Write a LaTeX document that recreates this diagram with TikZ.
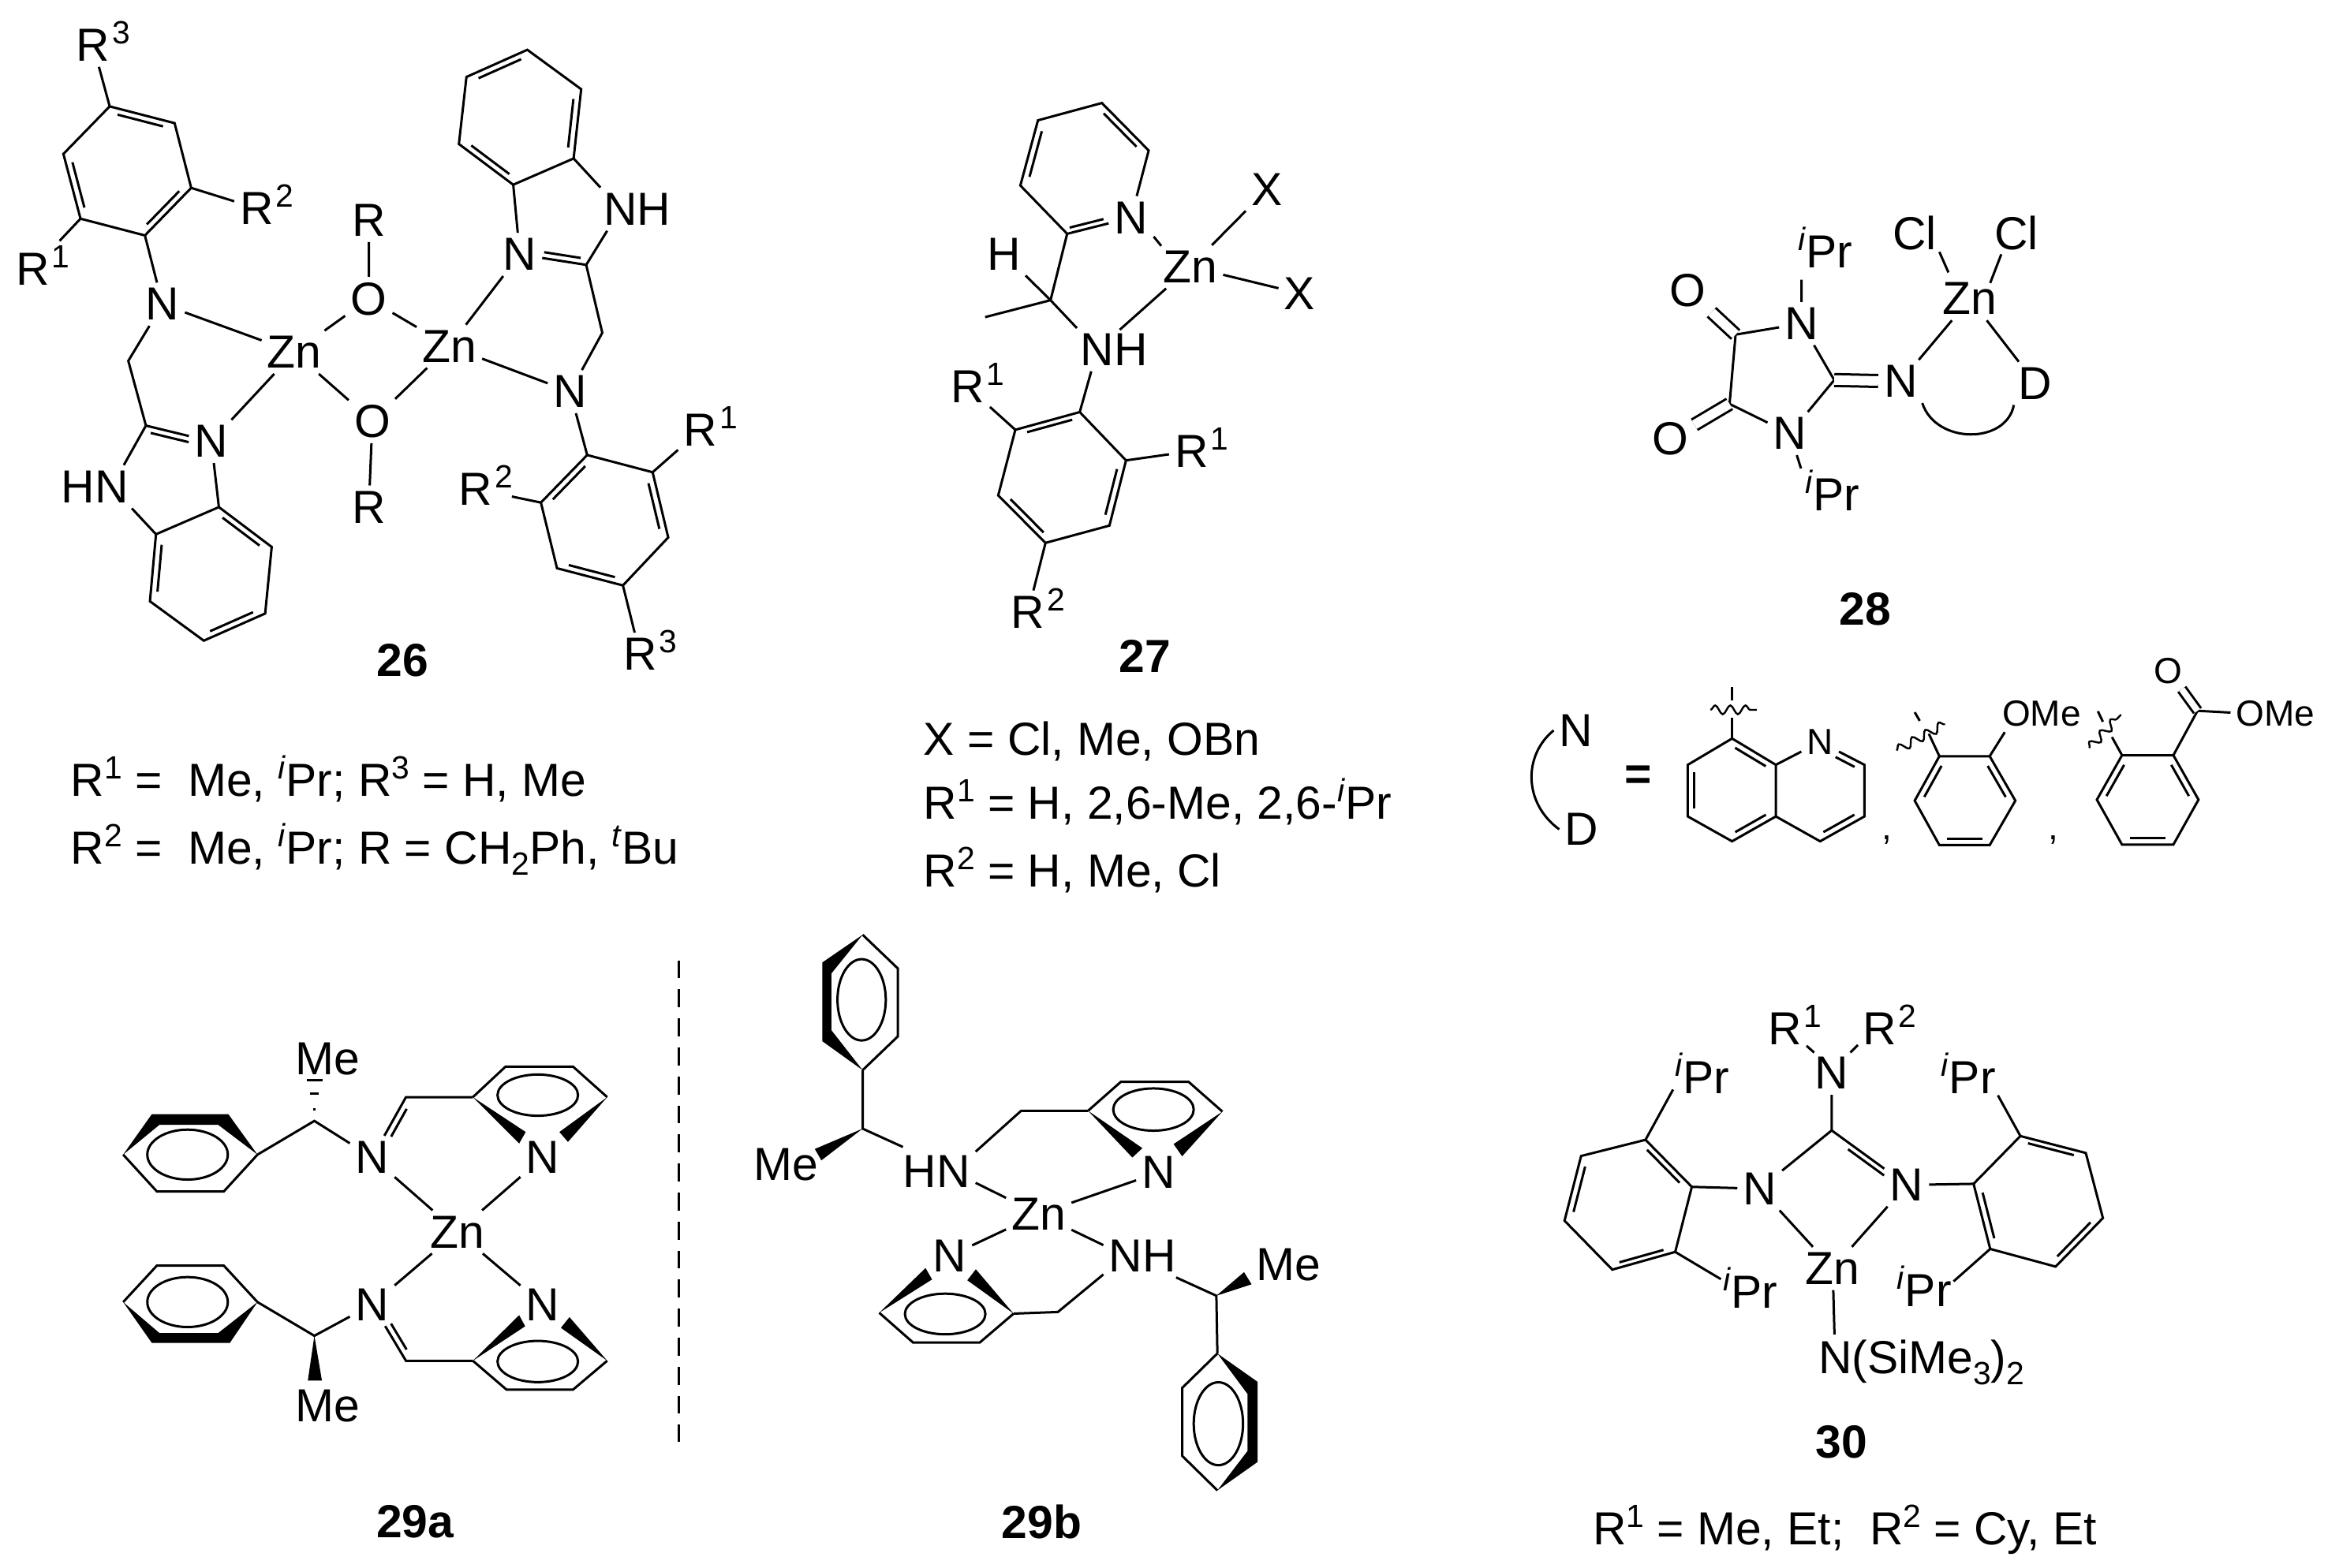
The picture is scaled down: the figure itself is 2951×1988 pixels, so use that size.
\documentclass[tikz,border=0pt]{standalone}
\usepackage{fontspec}
\setmainfont{Liberation Sans}
\usetikzlibrary{calc, decorations.pathmorphing}
\tikzstyle{bond} = [line width=0.75pt, line join=miter]
\tikzstyle{dbl} = [bond, double, double distance=3pt]
\tikzstyle{atom} = [inner sep=1.6pt, font=\fontsize{14.7}{17}\selectfont]
\tikzstyle{arm} = [inner sep=1.6pt, font=\fontsize{11.5}{14}\selectfont]
\tikzstyle{ipr} = [inner sep=0.5pt, font=\fontsize{14.7}{17}\selectfont]
\tikzstyle{txt} = [inner sep=0pt, anchor=west, font=\fontsize{14.7}{17}\selectfont]
\tikzstyle{lab} = [inner sep=0pt, font=\fontsize{14.7}{17}\selectfont\bfseries]
\tikzstyle{wavy} = [line width=0.6pt, decorate, decoration={snake, segment length=4.8pt, amplitude=1.4pt}]
\newcommand{\supr}[1]{\smash{\raisebox{5.5pt}{\fontsize{10.2}{12}\selectfont #1}}}
\newcommand{\subr}[1]{\smash{\raisebox{-3.5pt}{\fontsize{10.2}{12}\selectfont #1}}}
\newcommand{\rgrp}[1]{R\smash{\rlap{\kern0.8pt\supr{#1}}}}
\newcommand{\ipr}{\supr{\textit{i}}Pr}
\newcommand{\inbondat}[4]{\draw[bond] ($(#1)!#3!(#2)!3.3pt!-90:(#2)$) -- ($(#1)!#4!(#2)!3.3pt!-90:(#2)$);}
\newcommand{\inbond}[2]{\inbondat{#1}{#2}{0.15}{0.85}}
\begin{document}
\begin{tikzpicture}[x=0.25pt, y=-0.25pt]
    \useasboundingbox (0,0) rectangle (2951,1988);

    % complex 26
    \begin{scope}[xscale=0.6378, yscale=0.574]
    \node [atom] (za) at (585,778) {Zn};
    \node [atom] (zb) at (893,765) {Zn};
    \node [atom] (oa) at (733,660) {O};
    \node [atom] (ob) at (740,930) {O};
    \node [atom] (ra) at (733,487) {R};
    \node [atom] (rb) at (733,1120) {R};
    \node [atom] (na) at (323,672) {N};
    \node [atom] (nb) at (420,975) {N};
    \node [atom] (nc) at (1133,865) {N};
    \node [atom] (nd) at (1033,562) {N};
    \node [atom] (hn) at (222,1075) {\llap{H}N};
    \node [atom] (nh) at (1233,462) {N\rlap{H}};
    \node [atom] (ra3) at (185,100) {\rgrp{3}};
    \node [atom] (ra2) at (510,460) {\rgrp{2}};
    \node [atom] (ra1) at (65,595) {\rgrp{1}};
    \node [atom] (rd1) at (1392,950) {\rgrp{1}};
    \node [atom] (rd2) at (945,1080) {\rgrp{2}};
    \node [atom] (rd3) at (1272,1445) {\rgrp{3}};
    \node [lab] (n26) at (800,1458) {26};
    \coordinate (a1) at (218,235); \coordinate (a2) at (347,272); \coordinate (a3) at (380,415);
    \coordinate (a4) at (288,520); \coordinate (a5) at (160,483); \coordinate (a6) at (126,340);
    \coordinate (b1) at (310,1180); \coordinate (b2) at (435,1120); \coordinate (b3) at (540,1208);
    \coordinate (b4) at (527,1355); \coordinate (b5) at (405,1415); \coordinate (b6) at (298,1328);
    \coordinate (c1) at (1140,350); \coordinate (c2) at (1020,408); \coordinate (c3) at (912,318);
    \coordinate (c4) at (927,170); \coordinate (c5) at (1048,110); \coordinate (c6) at (1155,197);
    \coordinate (d1) at (1167,1005); \coordinate (d2) at (1297,1043); \coordinate (d3) at (1328,1187);
    \coordinate (d4) at (1238,1293); \coordinate (d5) at (1107,1255); \coordinate (d6) at (1075,1110);
    \coordinate (cha) at (255,797); \coordinate (cca) at (290,940);
    \coordinate (chb) at (1197,735); \coordinate (ccb) at (1165,585);
    \draw [bond] (a1) -- (a2) -- (a3) -- (a4) -- (a5) -- (a6) -- cycle;
    \inbond{a1}{a2} \inbond{a3}{a4} \inbond{a5}{a6}
    \draw [bond] (b1) -- (b2) -- (b3) -- (b4) -- (b5) -- (b6) -- cycle;
    \inbond{b2}{b3} \inbond{b4}{b5} \inbond{b6}{b1}
    \draw [bond] (c1) -- (c2) -- (c3) -- (c4) -- (c5) -- (c6) -- cycle;
    \inbond{c2}{c3} \inbond{c4}{c5} \inbond{c6}{c1}
    \draw [bond] (d1) -- (d2) -- (d3) -- (d4) -- (d5) -- (d6) -- cycle;
    \inbond{d6}{d1} \inbond{d2}{d3} \inbond{d4}{d5}
    \draw [bond] (a1) -- (ra3);
    \draw [bond] (a3) -- (ra2);
    \draw [bond, shorten >=3pt] (a5) -- (ra1);
    \draw [bond] (a4) -- (na);
    \draw [bond] (na) -- (za);
    \draw [bond] (na) -- (cha) -- (cca) -- (nb);
    \inbondat{cca}{nb}{0.1}{0.68}
    \draw [bond] (cca) -- (hn);
    \draw [bond] (hn) -- (b1);
    \draw [bond] (nb) -- (b2);
    \draw [bond] (nb) -- (za);
    \draw [bond] (za) -- (oa);
    \draw [bond] (za) -- (ob);
    \draw [bond] (oa) -- (zb);
    \draw [bond] (ob) -- (zb);
    \draw [bond] (oa) -- (ra);
    \draw [bond] (ob) -- (rb);
    \draw [bond] (zb) -- (nc);
    \draw [bond] (zb) -- (nd);
    \draw [bond] (nd) -- (c2);
    \draw [bond] (nd) -- (ccb);
    \inbondat{ccb}{nd}{0.1}{0.65}
    \draw [bond] (ccb) -- (nh);
    \draw [bond] (nh) -- (c1);
    \draw [bond] (ccb) -- (chb) -- (nc);
    \draw [bond] (nc) -- (d1);
    \draw [bond] (d2) -- (rd1);
    \draw [bond, shorten >=4.5pt] (d6) -- (rd2);
    \draw [bond] (d4) -- (rd3);
    \end{scope}

    \node [txt] (t26a) at (89,993) {R\supr{1} =\ \ Me, \ipr; R\supr{3} = H, Me};
    \node [txt] (t26b) at (89,1078) {R\supr{2} =\ \ Me, \ipr; R = CH\subr{2}Ph, \supr{\textit{t}}Bu};

    % complex 27
    \begin{scope}[shift={(1000,100)}, xscale=0.6378, yscale=0.5102]
    \node [atom] (zn) at (798,467) {Zn};
    \node [atom] (np) at (680,345) {N};
    \node [atom] (nh) at (613,673) {N\rlap{H}};
    \node [atom] (h) at (427,435) {H};
    \node [atom] (xa) at (950,275) {X};
    \node [atom] (xb) at (1015,533) {X};
    \node [atom] (r1l) at (355,765) {\rgrp{1}};
    \node [atom] (r1r) at (800,925) {\rgrp{1}};
    \node [atom] (r2) at (475,1325) {\rgrp{2}};
    \node [lab] (n27) at (708,1435) {27};
    \coordinate (p1) at (622,60); \coordinate (p2) at (715,178); \coordinate (p3) at (553,385);
    \coordinate (p4) at (460,265); \coordinate (p5) at (495,103);
    \coordinate (c) at (520,550); \coordinate (me) at (390,592);
    \coordinate (nza) at (725,392); \coordinate (nzb) at (740,415);
    \coordinate (a1) at (578,828); \coordinate (a2) at (670,948); \coordinate (a3) at (637,1110);
    \coordinate (a4) at (510,1153); \coordinate (a5) at (416,1035); \coordinate (a6) at (450,872);
    \draw [bond] (np) -- (p2) -- (p1) -- (p5) -- (p4) -- (p3) -- (np);
    \inbond{p1}{p2} \inbond{p4}{p5}
    \inbondat{np}{p3}{0.4}{0.93}
    \draw [bond] (p3) -- (c);
    \draw [bond] (h) -- (c) -- (nh);
    \draw [bond] (me) -- (c);
    \draw [bond] (nh) -- (zn);
    \draw [bond] (nza) -- (nzb);
    \draw [bond] (zn) -- (xa);
    \draw [bond] (zn) -- (xb);
    \draw [bond] (a1) -- (a2) -- (a3) -- (a4) -- (a5) -- (a6) -- cycle;
    \inbond{a6}{a1} \inbond{a2}{a3} \inbond{a4}{a5}
    \draw [bond] (nh) -- (a1);
    \draw [bond] (a6) -- (r1l);
    \draw [bond] (a2) -- (r1r);
    \draw [bond] (a4) -- (r2);
    \end{scope}

    \node [txt] (t27a) at (1170,940) {X = Cl, Me, OBn};
    \node [txt] (t27b) at (1170,1022) {R\supr{1} = H, 2,6-Me, 2,6-\ipr};
    \node [txt] (t27c) at (1170,1107) {R\supr{2} = H, Me, Cl};

    % complex 28 and its donor arms
    \begin{scope}[shift={(1950,200)}, xscale=0.6378, yscale=0.606]
    \node [atom] (zn) at (858,295) {Zn};
    \node [atom] (cla) at (748,157) {Cl};
    \node [atom] (clb) at (950,157) {Cl};
    \node [atom] (na) at (523,347) {N};
    \node [atom] (nb) at (500,577) {N};
    \node [atom] (nc) at (720,468) {N};
    \node [atom] (d) at (988,472) {D};
    \node [atom] (oa) at (297,277) {O};
    \node [atom] (ob) at (263,588) {O};
    \node [ipr] (ipa) at (570,197) {\ipr};
    \node [ipr] (ipb) at (585,705) {\ipr};
    \node [lab] (n28) at (650,945) {28};
    \coordinate (ca) at (392,370); \coordinate (cb) at (380,515); \coordinate (cc) at (588,465);
    \coordinate (ipae) at (523,255); \coordinate (ipbe) at (522,650);
    \coordinate (claz) at (797,197); \coordinate (zcla) at (815,240);
    \coordinate (clbz) at (920,202); \coordinate (zclb) at (898,262);
    \draw [bond] (na) -- (ca) -- (cb) -- (nb) -- (cc) -- (na);
    \draw [dbl] (ca) -- (oa);
    \draw [dbl] (cb) -- (ob);
    \draw [dbl] (cc) -- (nc);
    \draw [bond] (na) -- (ipae);
    \draw [bond] (nb) -- (ipbe);
    \draw [bond] (nc) -- (zn);
    \draw [bond] (zn) -- (d);
    \draw [bond] (claz) -- (zcla);
    \draw [bond] (clbz) -- (zclb);
    \draw [bond] (nc.-45) .. controls (790,600) and (930,600) .. (d.-135);
    % legend for the N-D arm
    \node [atom] (nn) at (75,1198) {N};
    \node [atom] (dd) at (86,1405) {D};
    \node [lab] (eq) at (198,1297) {=};
    \draw [bond] (nn.west) .. controls (-30,1250) and (-30,1350) .. (dd.west);
    % quinoline
    \node [arm] (nq) at (560,1222) {N};
    \coordinate (q1) at (385,1215); \coordinate (q2) at (472,1270); \coordinate (q3) at (472,1378);
    \coordinate (q4) at (385,1430); \coordinate (q5) at (297,1378); \coordinate (q6) at (297,1270);
    \coordinate (q7) at (648,1270); \coordinate (q8) at (648,1378); \coordinate (q9) at (560,1430);
    \draw [bond] (q1) -- (q2) -- (q3) -- (q4) -- (q5) -- (q6) -- cycle;
    \draw [bond] (q2) -- (nq) -- (q7) -- (q8) -- (q9) -- (q3);
    \inbond{q1}{q2} \inbond{q3}{q4} \inbond{q5}{q6} \inbond{q8}{q9}
    \inbondat{nq}{q7}{0.42}{0.85}
    \coordinate (qa) at (385,1172); \coordinate (qb) at (385,1135); \coordinate (qc) at (385,1108);
    \coordinate (qw1) at (342,1155); \coordinate (qw2) at (434,1155);
    \draw [bond] (q1) -- (qa);
    \draw [bond] (qb) -- (qc);
    \draw [wavy] (qw1) -- (qw2);
    \node [arm] (ca1) at (693,1428) {,};
    % anisyl
    \node [arm] (om) at (950,1163) {O\rlap{Me}};
    \coordinate (r1) at (797,1252); \coordinate (r2) at (897,1252); \coordinate (r3) at (948,1345);
    \coordinate (r4) at (897,1438); \coordinate (r5) at (797,1438); \coordinate (r6) at (748,1345);
    \draw [bond] (r1) -- (r2) -- (r3) -- (r4) -- (r5) -- (r6) -- cycle;
    \inbond{r2}{r3} \inbond{r4}{r5} \inbond{r6}{r1}
    \draw [bond] (r2) -- (om);
    \coordinate (ra) at (776,1205); \coordinate (rb) at (758,1178); \coordinate (rc) at (748,1160);
    \coordinate (rw1) at (712,1240); \coordinate (rw2) at (808,1185);
    \draw [bond] (r1) -- (ra);
    \draw [bond] (rb) -- (rc);
    \draw [wavy] (rw1) -- (rw2);
    \node [arm] (ca2) at (1023,1428) {,};
    % ester
    \node [arm] (oe) at (1252,1073) {O};
    \node [arm] (oc) at (1415,1163) {O\rlap{Me}};
    \coordinate (e1) at (1160,1250); \coordinate (e2) at (1262,1250); \coordinate (e3) at (1312,1343);
    \coordinate (e4) at (1262,1437); \coordinate (e5) at (1160,1437); \coordinate (e6) at (1110,1343);
    \coordinate (ce) at (1310,1157);
    \draw [bond] (e1) -- (e2) -- (e3) -- (e4) -- (e5) -- (e6) -- cycle;
    \inbond{e2}{e3} \inbond{e4}{e5} \inbond{e6}{e1}
    \draw [bond] (e2) -- (ce) -- (oc);
    \draw [dbl, double distance=2pt] (ce) -- (oe);
    \coordinate (ea) at (1140,1212); \coordinate (eb) at (1122,1180); \coordinate (ec) at (1112,1158);
    \coordinate (ew1) at (1095,1235); \coordinate (ew2) at (1158,1165);
    \draw [bond] (e1) -- (ea);
    \draw [bond] (eb) -- (ec);
    \draw [wavy] (ew1) -- (ew2);
    \end{scope}

    % complex 29a
    \begin{scope}[shift={(100,1200)}, xscale=0.6378, yscale=0.5026]
    \node [atom] (zn) at (752,720) {Zn};
    \node [atom] (na) at (583,532) {N};
    \node [atom] (nb) at (922,532) {N};
    \node [atom] (nc) at (583,903) {N};
    \node [atom] (nd) at (922,903) {N};
    \node [atom] (mea) at (495,283) {Me};
    \node [atom] (meb) at (495,1160) {Me};
    \node [lab] (n29a) at (668,1450) {29a};
    \coordinate (ph1) at (355,525); \coordinate (ca) at (468,440); \coordinate (cha) at (650,380);
    \coordinate (pya) at (783,380); \coordinate (ph2) at (355,897); \coordinate (cb) at (468,982);
    \coordinate (chb) at (650,1045); \coordinate (pyb) at (783,1045);
    % upper phenyl and pyridyl
    \fill (88,525) -- (145,423) -- (297,423) -- (355,525) -- (277,450) -- (160,450) -- cycle;
    \draw [bond] (ph1) -- (288,618) -- (155,618) -- (88,525);
    \draw [bond] (216,525) ellipse [x radius=80, y radius=63];
    \draw [bond] (ph1) -- (ca) -- (na);
    \draw [bond] (453,337) -- (485,337);
    \draw [bond] (460,372) -- (477,372);
    \draw [bond] (465,410) -- (470,410);
    \draw [bond] (na) -- (cha) -- (pya);
    \inbondat{na}{cha}{0.38}{0.84}
    \draw [bond] (pya) -- (848,303) -- (982,303) -- (1050,380);
    \fill (pya) -- (888,468) -- (875,497) -- cycle;
    \fill (1050,380) -- (955,468) -- (972,493) -- cycle;
    \draw [bond] (912,375) ellipse [x radius=80, y radius=52];
    \draw [bond] (na) -- (zn);
    \draw [bond] (nb) -- (zn);
    % lower phenyl and pyridyl
    \fill (88,897) -- (145,1000) -- (300,1000) -- (355,897) -- (277,975) -- (160,975) -- cycle;
    \draw [bond] (ph2) -- (288,805) -- (155,805) -- (88,897);
    \draw [bond] (216,897) ellipse [x radius=80, y radius=63];
    \draw [bond] (ph2) -- (cb) -- (nc);
    \fill (cb) -- (455,1095) -- (483,1095) -- cycle;
    \draw [bond] (nc) -- (chb) -- (pyb);
    \inbondat{chb}{nc}{0.16}{0.62}
    \draw [bond] (pyb) -- (850,1118) -- (982,1118) -- (1050,1045);
    \fill (pyb) -- (875,930) -- (887,958) -- cycle;
    \fill (1050,1045) -- (975,935) -- (958,962) -- cycle;
    \draw [bond] (912,1047) ellipse [x radius=80, y radius=52];
    \draw [bond] (nc) -- (zn);
    \draw [bond] (nd) -- (zn);
    % mirror line
    \coordinate (mt) at (1193,35); \coordinate (mb) at (1193,1250);
    \draw [bond, dash pattern=on 5.7pt off 3.5pt] (mt) -- (mb);
    \end{scope}

    % complex 29b
    \begin{scope}[shift={(920,1180)}, xscale=0.6378, yscale=0.5153]
    \node [atom] (zn) at (622,697) {Zn};
    \node [atom] (hn) at (452,593) {\llap{H}N};
    \node [atom] (nb) at (860,595) {N};
    \node [atom] (nc) at (445,800) {N};
    \node [atom] (nh) at (795,800) {N\rlap{H}};
    \node [atom] (mea) at (120,575) {Me};
    \node [atom] (meb) at (1118,822) {Me};
    \node [lab] (n29b) at (628,1455) {29b};
    \coordinate (pa) at (272,343); \coordinate (ca) at (272,487); \coordinate (cha) at (587,443);
    \coordinate (pya) at (720,443); \coordinate (pb) at (977,1040); \coordinate (cb) at (975,898);
    \coordinate (chb) at (660,938); \coordinate (pyb) at (572,942);
    \coordinate (hne) at (352,532); \coordinate (nhe) at (895,853);
    % upper phenyl and pyridyl
    \fill (272,10) -- (192,78) -- (192,272) -- (pa) -- (210,245) -- (210,105) -- cycle;
    \draw [bond] (272,10) -- (342,93) -- (342,260) -- (pa);
    \draw [bond] (270,170) ellipse [x radius=48, y radius=100];
    \draw [bond] (pa) -- (ca) -- (hne);
    \fill (ca) -- (177,537) -- (190,565) -- cycle;
    \draw [bond] (hn) -- (cha) -- (pya);
    \draw [bond] (pya) -- (785,372) -- (920,372) -- (987,445);
    \fill (pya) -- (828,535) -- (808,558) -- cycle;
    \fill (987,445) -- (890,525) -- (907,555) -- cycle;
    \draw [bond] (850,440) ellipse [x radius=80, y radius=52];
    \draw [bond] (nb) -- (zn);
    \draw [bond] (hn) -- (zn);
    % lower phenyl and pyridyl
    \draw [bond] (zn) -- (nc);
    \draw [bond] (zn) -- (nh);
    \draw [bond] (nh) -- (chb) -- (pyb);
    \draw [bond] (pyb) -- (505,1013) -- (372,1013) -- (305,940);
    \fill (pyb) -- (497,833) -- (480,860) -- cycle;
    \fill (305,940) -- (397,830) -- (410,858) -- cycle;
    \draw [bond] (436,943) ellipse [x radius=80, y radius=50];
    \draw [bond] (nhe) -- (cb) -- (pb);
    \fill (cb) -- (1030,840) -- (1045,870) -- cycle;
    \fill (pb) -- (1057,1110) -- (1057,1307) -- (977,1377) -- (1037,1280) -- (1037,1140) -- cycle;
    \draw [bond] (pb) -- (907,1125) -- (907,1292) -- (977,1377);
    \draw [bond] (979,1213) ellipse [x radius=49, y radius=102];
    \end{scope}

    % complex 30
    \begin{scope}[shift={(1950,1240)}, xscale=0.6378, yscale=0.477]
    \node [atom] (zn) at (585,772) {Zn};
    \node [atom] (nt) at (583,253) {N};
    \node [atom] (nl) at (440,560) {N};
    \node [atom] (nr) at (732,550) {N};
    \node [atom] (ra) at (490,135) {\rgrp{1}};
    \node [atom] (rb) at (678,135) {\rgrp{2}};
    \node [atom] (ns) at (590,1020) {N\rlap{(SiMe\subr{3})\subr{2}}};
    \node [ipr] (ipa) at (326,265) {\ipr};
    \node [ipr] (ipb) at (421,835) {\ipr};
    \node [ipr] (ipc) at (855,265) {\ipr};
    \node [ipr] (ipd) at (767,830) {\ipr};
    \node [lab] (n30) at (603,1233) {30};
    \node [txt] (t30) at (107,1475) {R\supr{1} = Me, Et;\ \ R\supr{2} = Cy,\ Et};
    \coordinate (cc) at (583,405);
    \coordinate (l1) at (213,430); \coordinate (l2) at (305,555); \coordinate (l3) at (272,728);
    \coordinate (l4) at (147,775); \coordinate (l5) at (52,645); \coordinate (l6) at (85,473);
    \coordinate (m1) at (958,420); \coordinate (m2) at (1088,465); \coordinate (m3) at (1122,638);
    \coordinate (m4) at (1028,767); \coordinate (m5) at (898,720); \coordinate (m6) at (865,547);
    \coordinate (rae) at (533,180); \coordinate (nra) at (548,198);
    \coordinate (rbe) at (635,178); \coordinate (nrb) at (620,198);
    \draw [bond] (rae) -- (nra);
    \draw [bond] (rbe) -- (nrb);
    \draw [bond] (nt) -- (cc);
    \draw [bond] (nl) -- (cc) -- (nr);
    \inbondat{cc}{nr}{0.28}{0.76}
    \draw [bond] (nl) -- (zn);
    \draw [bond] (nr) -- (zn);
    \draw [bond] (zn) -- (ns);
    \draw [bond] (l1) -- (l2) -- (l3) -- (l4) -- (l5) -- (l6) -- cycle;
    \inbond{l1}{l2} \inbond{l3}{l4} \inbond{l5}{l6}
    \draw [bond] (m1) -- (m2) -- (m3) -- (m4) -- (m5) -- (m6) -- cycle;
    \inbond{m1}{m2} \inbond{m3}{m4} \inbond{m5}{m6}
    \draw [bond] (nl) -- (l2);
    \draw [bond] (nr) -- (m6);
    \draw [bond] (l1) -- (ipa.202);
    \draw [bond] (l3) -- (ipb.156);
    \draw [bond] (m1) -- (ipc.329);
    \draw [bond] (m5) -- (ipd.17);
    \end{scope}
\end{tikzpicture}
\end{document}
